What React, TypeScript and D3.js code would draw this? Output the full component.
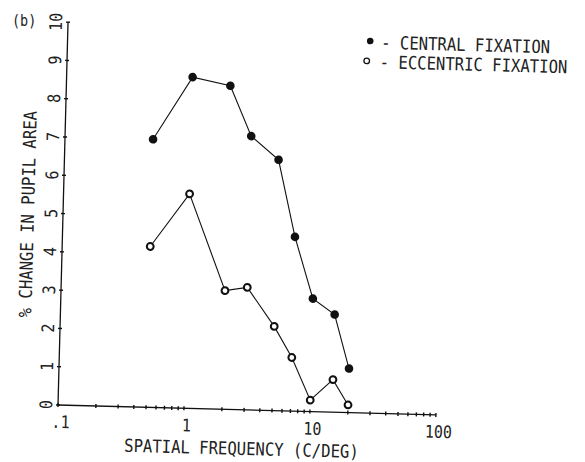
import React from "react";
import * as d3 from "d3";

const freqCentral = [0.5, 1, 2, 3, 5, 7, 10, 15, 20];
const valCentral = [7.0, 8.65, 8.45, 7.15, 6.55, 4.55, 2.95, 2.55, 1.15];
const freqEccentric = [0.5, 1, 2, 3, 5, 7, 10, 15, 20];
const valEccentric = [4.2, 5.6, 3.1, 3.2, 2.2, 1.4, 0.3, 0.85, 0.2];

const xTickLabels = [".1", "1", "10", "100"];
const xTickLabelValues = [0.1, 1, 10, 100];
const yTickValues = [0, 1, 2, 3, 4, 5, 6, 7, 8, 9, 10];

const legendLabels = ["- CENTRAL FIXATION", "- ECCENTRIC FIXATION"];
const xTitle = "SPATIAL FREQUENCY (C/DEG)";
const yTitle = "% CHANGE IN PUPIL AREA";
const panelLabel = "(b)";

const FONT = "'DejaVu Sans Mono', monospace";
const SY = 1.15;

export default function App() {
  const W = 585;
  const H = 462;
  const ox = 58;
  const oy = 405;
  const x = d3.scaleLog().domain([0.1, 100]).range([ox, ox + 378]);
  const y = d3.scaleLinear().domain([0, 10]).range([oy, oy - 383]);

  const minorTicks: number[] = [];
  [0.1, 1, 10].forEach((dec) => {
    for (let k = 1; k <= 9; k++) minorTicks.push(dec * k);
  });
  minorTicks.push(100);

  const line = d3
    .line<[number, number]>()
    .x((d) => x(d[0]))
    .y((d) => y(d[1]));

  const central: [number, number][] = freqCentral.map((f, i) => [f, valCentral[i]]);
  const ecc: [number, number][] = freqEccentric.map((f, i) => [f, valEccentric[i]]);

  return (
    <svg
      width={W}
      height={H}
      style={{ position: "absolute", left: 0, top: 0, background: "#fff" }}
      fontFamily={FONT}
    >
      <rect width={W} height={H} fill="#fff" />
      <text transform={`translate(12, 26) scale(1, ${SY})`} fontSize={13.5} fill="#222">
        {panelLabel}
      </text>
      <g transform={`rotate(1.5, ${ox}, ${oy})`} stroke="#111" fill="none">
        {/* axes */}
        <line x1={ox} y1={oy} x2={x(100)} y2={oy} strokeWidth={1.3} />
        <line x1={ox} y1={oy} x2={ox} y2={y(10)} strokeWidth={1.3} />
        {minorTicks.map((t, i) => (
          <line key={"xt" + i} x1={x(t)} x2={x(t)} y1={oy - 2} y2={oy + 2} strokeWidth={1.4} />
        ))}
        {yTickValues.map((t) => (
          <line key={"yt" + t} x1={ox - 2} x2={ox + 2} y1={y(t)} y2={y(t)} strokeWidth={1.4} />
        ))}
        {/* tick labels */}
        {xTickLabelValues.map((v, i) => (
          <text
            key={"xl" + i}
            transform={`translate(${x(v) + 3}, ${oy + 23}) scale(1, ${SY})`}
            fontSize={15}
            textAnchor="middle"
            fill="#222"
            stroke="none"
          >
            {xTickLabels[i]}
          </text>
        ))}
        {yTickValues.map((t) => (
          <text
            key={"yl" + t}
            transform={`translate(${ox - 6}, ${y(t)}) rotate(-90) scale(1, ${SY})`}
            fontSize={15}
            textAnchor="middle"
            fill="#222"
            stroke="none"
          >
            {String(t)}
          </text>
        ))}
        {/* titles */}
        <text
          transform={`translate(${(125 + 360) / 2}, ${oy + 45}) scale(1, ${SY})`}
          fontSize={15.6}
          textAnchor="middle"
          fill="#222"
          stroke="none"
        >
          {xTitle}
        </text>
        <text
          transform={`translate(29, 215) rotate(-90) scale(1, ${SY})`}
          fontSize={15.6}
          textAnchor="middle"
          fill="#222"
          stroke="none"
        >
          {yTitle}
        </text>
        {/* data lines */}
        <path d={line(central) || ""} strokeWidth={1.1} />
        <path d={line(ecc) || ""} strokeWidth={1.1} />
        {central.map((d, i) => (
          <circle key={"c" + i} cx={x(d[0])} cy={y(d[1])} r={4.3} fill="#111" stroke="none" />
        ))}
        {ecc.map((d, i) => (
          <circle key={"e" + i} cx={x(d[0])} cy={y(d[1])} r={3.4} fill="#fff" strokeWidth={2} />
        ))}
      </g>
      <g transform="rotate(1.5, 370, 50)">
        <circle cx={370} cy={41} r={3.3} fill="#111" />
        <text transform={`translate(381, 48.5) scale(1, ${SY})`} fontSize={15.6} fill="#222">
          {legendLabels[0]}
        </text>
        <circle cx={367} cy={61} r={2.8} fill="#fff" stroke="#111" strokeWidth={1.3} />
        <text transform={`translate(380, 68) scale(1, ${SY})`} fontSize={15.6} fill="#222">
          {legendLabels[1]}
        </text>
      </g>
    </svg>
  );
}
